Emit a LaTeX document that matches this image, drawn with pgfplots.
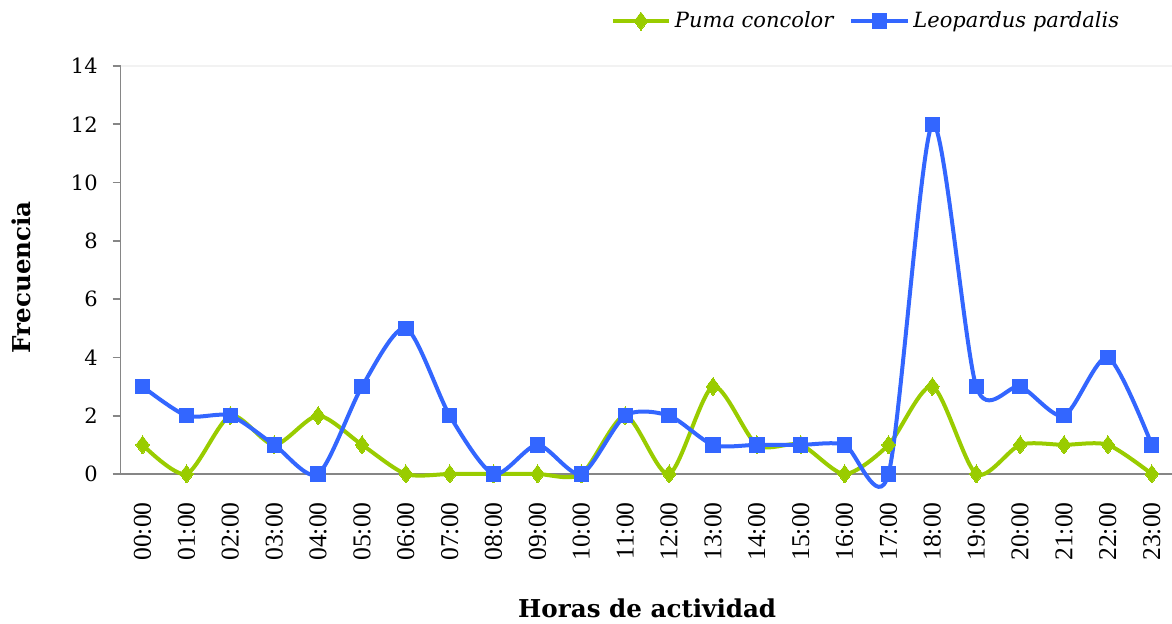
\documentclass[border=0pt]{standalone}
\usepackage{pgfplots}
\pgfplotsset{compat=1.18}
\usepackage{fontspec}
\setmainfont{DejaVu Serif}
\newfontfamily\tickfont{Liberation Serif}
\definecolor{pumagreen}{RGB}{153,204,0}
\definecolor{leoblue}{RGB}{51,102,255}
\definecolor{axgray}{RGB}{134,134,134}
\begin{document}
\begin{tikzpicture}
\useasboundingbox (-60.35pt,-75pt) rectangle (525.65pt,237pt);
\begin{axis}[
  at={(0,0)}, anchor=south west,
  scale only axis,
  width=526.5pt, height=204pt,
  xmin=-0.5, xmax=23.5,
  ymin=0, ymax=14,
  axis x line*=bottom, axis y line*=left,
  axis line style={axgray, line width=0.8pt},
  every tick/.style={axgray, line width=0.8pt},
  ytick={0,2,...,14},
  tick align=outside,
  major tick length=4pt,
  minor tick length=4pt,
  xtick={0,...,23},
  xticklabels={00:00,01:00,02:00,03:00,04:00,05:00,06:00,07:00,08:00,09:00,10:00,11:00,12:00,13:00,14:00,15:00,16:00,17:00,18:00,19:00,20:00,21:00,22:00,23:00},
  x tick style={draw=none},
  minor xtick={-0.5,0.5,...,22.5},
  xticklabel style={font=\tickfont\fontsize{12.8}{14}\selectfont, rotate=90, anchor=east, inner xsep=10pt},
  yticklabel style={font=\fontsize{10.5}{12}\selectfont, xshift=-4pt},
  /pgf/number format/assume math mode=true,
  xlabel={\textbf{Horas de actividad}},
  ylabel={\textbf{Frecuencia}},
  every axis x label/.style={at={(axis description cs:0.5,0)}, anchor=center, yshift=-67pt, font=\fontsize{12.3}{14}\selectfont},
  every axis y label/.style={at={(axis description cs:-0.094,0.482)}, anchor=center, rotate=90, font=\fontsize{12.3}{14}\selectfont},
  legend columns=2,
  legend style={at={(axis description cs:0.958,1.11)}, anchor=east, draw=none, fill=none,
    font=\itshape\fontsize{10.5}{12}\selectfont,
    /tikz/every even column/.append style={column sep=6pt}},
  legend image code/.code={\draw[mark repeat=2,mark phase=2] plot coordinates {(0pt,0pt) (14pt,0pt) (28pt,0pt)};},
  clip=false,
]
\draw[gray!10, line width=0.8pt] (rel axis cs:0,1) -- (rel axis cs:1,1);
\addplot[pumagreen, line width=2pt, smooth, tension=0.45, mark=diamond*, mark size=4.5pt, mark options={fill=pumagreen, draw=pumagreen, line width=0pt}]
coordinates {(0,1)(1,0)(2,2)(3,1)(4,2)(5,1)(6,0)(7,0)(8,0)(9,0)(10,0)(11,2)(12,0)(13,3)(14,1)(15,1)(16,0)(17,1)(18,3)(19,0)(20,1)(21,1)(22,1)(23,0)};
\addlegendentry{Puma concolor}
\addplot[leoblue, line width=2pt, smooth, tension=0.45, mark=square*, mark size=3.6pt, mark options={fill=leoblue, draw=leoblue, line width=0pt}]
coordinates {(0,3)(1,2)(2,2)(3,1)(4,0)(5,3)(6,5)(7,2)(8,0)(9,1)(10,0)(11,2)(12,2)(13,1)(14,1)(15,1)(16,1)(17,0)(18,12)(19,3)(20,3)(21,2)(22,4)(23,1)};
\addlegendentry{Leopardus pardalis}
\end{axis}
\end{tikzpicture}
\end{document}
